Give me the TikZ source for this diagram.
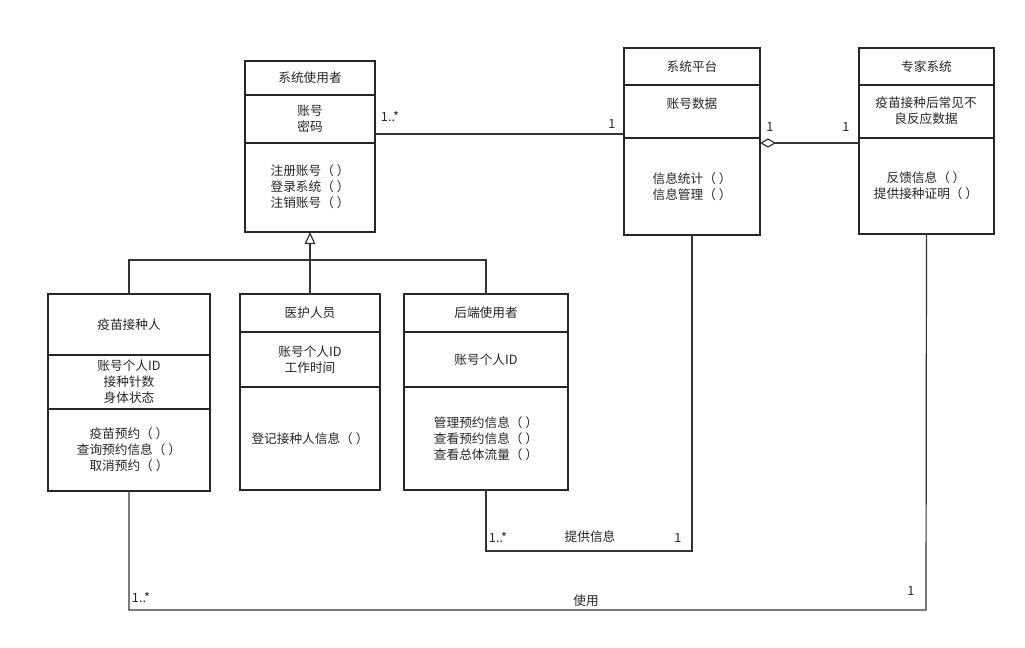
\documentclass[tikz,border=0pt]{standalone}
\usepackage{fontspec}
\setmainfont{Noto Sans CJK SC}
\usetikzlibrary{arrows.meta}
\begin{document}
\begin{tikzpicture}[x=0.75pt,y=-0.75pt,
  box/.style={draw=black!85,line width=1.3pt},
  conn/.style={draw=black!80,line width=0.9pt},
  txt/.style={font=\fontsize{9.5}{12}\selectfont,text=black!85,align=center,inner sep=0pt},
  lbl/.style={font=\fontsize{9.5}{12}\selectfont,text=black!85,inner sep=0pt}]
\useasboundingbox (0,0) rectangle (1025,647);
\fill[white] (0,0) rectangle (1025,647);
% class macro-like drawings
\newcommand{\umlclass}[8]{% name,x1,y1,x2,y2,d1,d2,title
  \draw[box] (#2,#3) rectangle (#4,#5);
  \draw[box] (#2,#6) -- (#4,#6);
  \draw[box] (#2,#7) -- (#4,#7);
  \coordinate (#1-top) at ({(#2+#4)/2},#3);
  \coordinate (#1-bot) at ({(#2+#4)/2},#5);
  \node[txt] at ({(#2+#4)/2},{(#3+#6)/2}) {#8};
}
\umlclass{user}{245}{61}{375}{232}{95}{143}{系统使用者}
\node[txt] at (310,119) {账号\\密码};
\node[txt] at (310,187) {注册账号（ ）\\登录系统（ ）\\注销账号（ ）};

\umlclass{plat}{624}{48}{760}{235}{85}{138}{系统平台}
\node[txt] at (692,104) {账号数据};
\node[txt] at (692,187) {信息统计（ ）\\信息管理（ ）};

\umlclass{exp}{859}{48}{994}{234}{85}{138}{专家系统}
\node[txt] at (926,111) {疫苗接种后常见不\\良反应数据};
\node[txt] at (926,186) {反馈信息（ ）\\提供接种证明（ ）};

\umlclass{vac}{48}{294}{210}{491}{355}{409}{疫苗接种人}
\node[txt] at (129,382) {账号个人ID\\接种针数\\身体状态};
\node[txt] at (129,450) {疫苗预约（ ）\\查询预约信息（ ）\\取消预约（ ）};

\umlclass{med}{240}{294}{380}{490}{332}{387}{医护人员}
\node[txt] at (310,360) {账号个人ID\\工作时间};
\node[txt] at (310,439) {登记接种人信息（ ）};

\umlclass{back}{404}{294}{568}{490}{332}{387}{后端使用者}
\node[txt] at (486,360) {账号个人ID};
\node[txt] at (486,439) {管理预约信息（ ）\\查看预约信息（ ）\\查看总体流量（ ）};

% association user - platform
\coordinate (ua) at (375,134); \coordinate (pa) at (624,134);
\draw[conn] (ua) -- (pa);
\node[lbl] at (390,117) {1..*};
\node[lbl] at (612,124) {1};
% aggregation
\coordinate (pb) at (760,143); \coordinate (eb) at (859,143);
\draw[conn,{Diamond[open,length=12pt,width=7pt]}-] (pb) -- (eb);
\node[lbl] at (770,127) {1};
\node[lbl] at (846,127) {1};
% inheritance
\coordinate (j) at (310,260);
\draw[conn,-{Triangle[open,length=9pt,width=8pt]}] (med-top) -- (user-bot);
\draw[conn] (vac-top) |- (j) -| (back-top);
% back - platform
\draw[conn] (back-bot) |- (692,551) -- (plat-bot);
\node[lbl] at (498,538) {1..*};
\node[lbl] at (590,537) {提供信息};
\node[lbl] at (678,538) {1};
% vac - expert
\draw[conn] (vac-bot) |- (926,610) -- (exp-bot);
\node[lbl] at (141,598) {1..*};
\node[lbl] at (586,601) {使用};
\node[lbl] at (911,591) {1};
\end{tikzpicture}
\end{document}
